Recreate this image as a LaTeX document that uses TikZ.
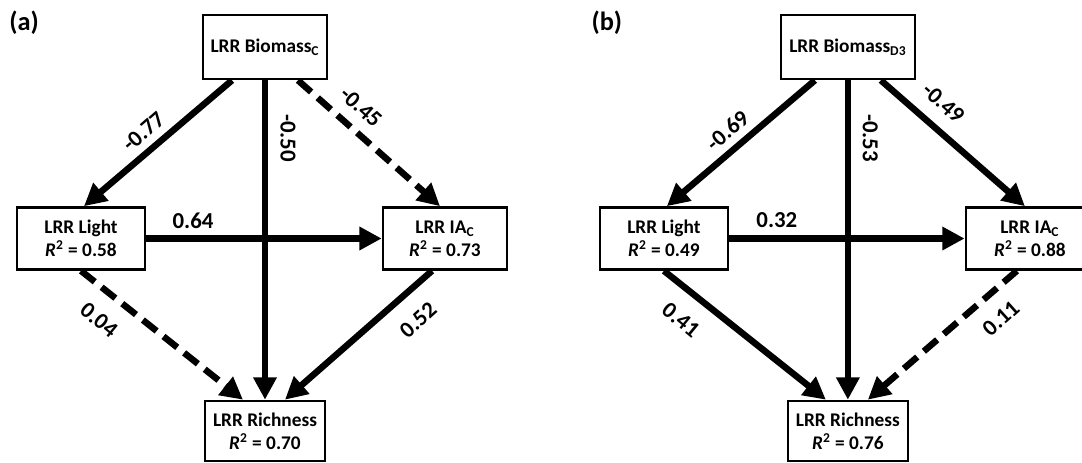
\documentclass[tikz,border=0pt]{standalone}
\usepackage{fontspec}
\setmainfont{Carlito}
\usetikzlibrary{arrows.meta}

\newcommand{\rsq}[1]{\textit{R}\textsuperscript{2} = #1}

\tikzset{
  var/.style={draw, line width=1.5pt, inner sep=0pt, align=center,
    minimum height=1.24cm, font=\bfseries\fontsize{11}{13}\selectfont},
  coef/.style={inner sep=0pt, font=\bfseries\fontsize{13}{15}\selectfont},
  effect/.style={line width=3.7pt, ->},
  weak/.style={effect, dash pattern=on 10pt off 5pt},
  panel/.style={inner sep=0pt, font=\bfseries\fontsize{15}{17}\selectfont}
}

\begin{document}
\begin{tikzpicture}[x=0.02cm, y=-0.02cm, >={Triangle[length=12.7pt, width=12.7pt]}]
\useasboundingbox (0,0) rectangle (1082,463);

% (a) Biomass C
\node[panel] (aTag) at (24,23) {(a)};
\node[var, minimum width=2.48cm, minimum height=1.28cm] (aBio) at (265,47) {LRR Biomass\textsubscript{C}};
\node[var, minimum width=2.56cm] (aLight) at (81,238.5) {LRR Light\\\rsq{0.58}};
\node[var, minimum width=2.48cm] (aIA) at (445,238.5) {LRR IA\textsubscript{C}\\\rsq{0.73}};
\node[var, minimum width=2.4cm, minimum height=1.2cm] (aRich) at (265,431) {LRR Richness\\\rsq{0.70}};

\draw[effect] ([xshift=-0.66cm]aBio.south) -- ([xshift=0.06cm]aLight.north);
\draw[effect] (aBio.south) -- (aRich.north);
\draw[weak] ([xshift=0.66cm]aBio.south) -- ([xshift=-0.1cm]aIA.north);
\draw[effect] (aLight.east) -- (aIA.west);
\draw[weak] (aLight.south) -- ([xshift=-0.44cm]aRich.north);
\draw[effect] ([xshift=-0.26cm]aIA.south) -- ([xshift=0.4cm]aRich.north);

\node[coef, rotate=41] (aBL) at (143.5,131.5) {-0.77};
\node[coef, rotate=-90] (aBR) at (288,138) {-0.50};
\node[coef, rotate=-42] (aBI) at (361,107) {-0.45};
\node[coef] (aLI) at (193,220.5) {0.64};
\node[coef, rotate=-39.5] (aLR) at (99,320) {0.04};
\node[coef, rotate=42] (aIR) at (418,320) {0.52};

% (b) Biomass D3
\begin{scope}[xshift=11.66cm]
\node[panel] (bTag) at (24,23) {(b)};
\node[var, minimum width=2.68cm, minimum height=1.28cm] (bBio) at (265,47) {LRR Biomass\textsubscript{D3}};
\node[var, minimum width=2.56cm] (bLight) at (81,238.5) {LRR Light\\\rsq{0.49}};
\node[var, minimum width=2.56cm] (bIA) at (447,238.5) {LRR IA\textsubscript{C}\\\rsq{0.88}};
\node[var, minimum width=2.4cm, minimum height=1.2cm] (bRich) at (265,431) {LRR Richness\\\rsq{0.76}};

\draw[effect] ([xshift=-0.66cm]bBio.south) -- ([xshift=0.06cm]bLight.north);
\draw[effect] (bBio.south) -- (bRich.north);
\draw[effect] ([xshift=0.66cm]bBio.south) -- ([xshift=-0.1cm]bIA.north);
\draw[effect] (bLight.east) -- (bIA.west);
\draw[effect] (bLight.south) -- ([xshift=-0.44cm]bRich.north);
\draw[weak] ([xshift=-0.26cm]bIA.south) -- ([xshift=0.4cm]bRich.north);

\node[coef, rotate=41] (bBL) at (144.5,130.5) {-0.69};
\node[coef, rotate=-90] (bBR) at (287.5,138) {-0.53};
\node[coef, rotate=-42] (bBI) at (360.5,103) {-0.49};
\node[coef] (bLI) at (194,220.5) {0.32};
\node[coef, rotate=-39.5] (bLR) at (98,320) {0.41};
\node[coef, rotate=42] (bIR) at (418,318.5) {0.11};
\end{scope}
\end{tikzpicture}
\end{document}
